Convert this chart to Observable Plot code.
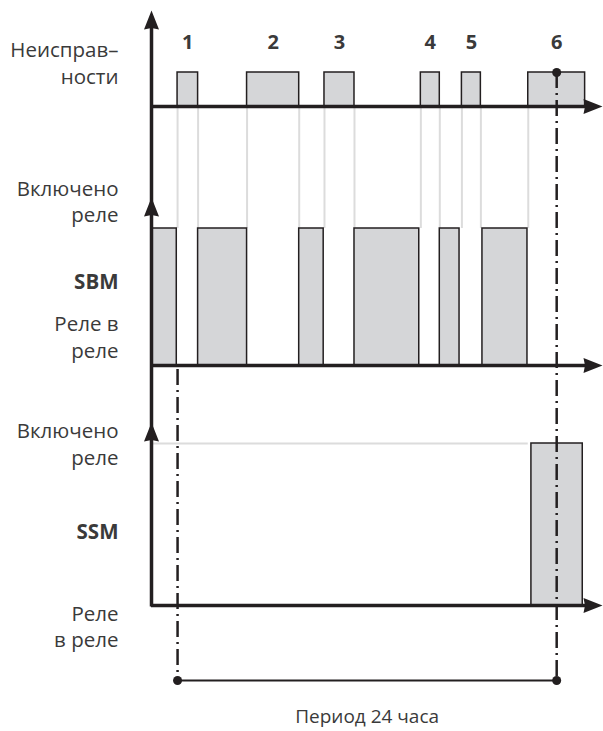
<!DOCTYPE html>
<html><head><meta charset="utf-8">
<script src="https://cdn.jsdelivr.net/npm/d3@7"></script>
<script src="https://cdn.jsdelivr.net/npm/@observablehq/plot@0.6"></script>
<style>html,body{margin:0;padding:0;background:#fff}</style>
</head><body><div id="chart"></div>
<script>
// ---- Data (time in hours; the 24 h period runs from the start of fault 1 to the marked point in fault 6)
const faultLabels = ["1", "2", "3", "4", "5", "6"];
const faultStart  = [0.0, 4.4, 9.3, 15.4, 18.0, 22.2];
const faultEnd    = [1.3, 7.7, 11.2, 16.6, 19.2, 25.8];
const sbmOnStart  = [-1.65, 1.3, 7.7, 11.2, 16.6, 19.3];
const sbmOnEnd    = [-0.05, 4.4, 9.25, 15.3, 17.85, 22.15];
const ssmOnStart  = [22.4];
const ssmOnEnd    = [25.65];
const periodStart = 0;
const periodEnd   = 24;
const timeAxisStart = -1.65;
const timeAxisEnd   = 26.9;
const faultLaneLabel = "Неисправ–\nности";
const onLabel  = "Включено\nреле";
const sbmName  = "SBM";
const ssmName  = "SSM";
const sbmOffLabel = "Реле в\nреле";
const ssmOffLabel = "Реле\nв реле";
const periodLabel = "Период 24 часа";

// ---- Layout (vertical diagram units)
const lane = {
  fault: {top: 10, on: 72, base: 106},
  sbm:   {top: 197, on: 228, base: 365},
  ssm:   {top: 422, on: 443, base: 605}
};
const numberRowY = 42;
const periodY = 680;
const captionY = 716;

const faults = faultLabels.map((label, i) => ({label, start: faultStart[i], end: faultEnd[i]}));
const sbmOn = sbmOnStart.map((s, i) => ({start: s, end: sbmOnEnd[i]}));
const ssmOn = ssmOnStart.map((s, i) => ({start: s, end: ssmOnEnd[i]}));
const connectors = faultStart.concat(faultEnd.slice(0, 5));

const INK = "#231f20";
const TEXT = "#3a3a3a";
const BOX = "#d5d6d8";
const LIGHT = "#dcdcdc";

// arrowhead pointing up with its tip at the origin
const arrowHead = {draw(ctx) { ctx.moveTo(0, 0); ctx.lineTo(7.5, 19); ctx.lineTo(0, 17.5); ctx.lineTo(-7.5, 19); ctx.closePath(); }};

const vArrows = [lane.fault, lane.sbm, lane.ssm].map(l => ({x: timeAxisStart, y: l.top}));
const hArrows = [lane.fault, lane.sbm, lane.ssm].map(l => ({x: timeAxisEnd, y: l.base}));

const fs = 20.5;
const laneText = [
  {y: (48 + 75) / 2, t: faultLaneLabel},
  {y: (187 + 213) / 2, t: onLabel},
  {y: (323 + 348) / 2, t: sbmOffLabel},
  {y: (429 + 456) / 2, t: onLabel},
  {y: (612 + 638) / 2, t: ssmOffLabel}
];
const laneNames = [
  {y: 282, t: sbmName},
  {y: 532, t: ssmName}
];

const chart = Plot.plot({
  width: 603, height: 731,
  marginTop: 0, marginRight: 0, marginBottom: 0, marginLeft: 0,
  x: {domain: [timeAxisStart, timeAxisEnd], range: [151, 602], axis: null},
  y: {domain: [0, 731], range: [0, 731], axis: null},
  style: {fontFamily: "'Open Sans', sans-serif", background: "#fff"},
  marks: [
    Plot.ruleX(connectors, {x: d => d, y1: lane.fault.base, y2: lane.sbm.on, stroke: LIGHT, strokeWidth: 2}),
    Plot.ruleY([lane.ssm.on], {x1: timeAxisStart, x2: faultStart[5], stroke: LIGHT, strokeWidth: 2}),
    Plot.rect(faults, {x1: "start", x2: "end", y1: lane.fault.on, y2: lane.fault.base, fill: BOX, stroke: INK, strokeWidth: 1.5}),
    Plot.rect(sbmOn, {x1: "start", x2: "end", y1: lane.sbm.on, y2: lane.sbm.base, fill: BOX, stroke: INK, strokeWidth: 1.5}),
    Plot.rect(ssmOn, {x1: "start", x2: "end", y1: lane.ssm.on, y2: lane.ssm.base, fill: BOX, stroke: INK, strokeWidth: 1.5}),
    Plot.ruleY([lane.fault.base, lane.sbm.base, lane.ssm.base], {x1: timeAxisStart, x2: timeAxisEnd - 0.6, stroke: INK, strokeWidth: 3.5}),
    Plot.ruleX([timeAxisStart], {y1: lane.fault.top + 8, y2: lane.ssm.base + 1.5, stroke: INK, strokeWidth: 3.5}),
    Plot.ruleX([periodStart], {y1: lane.sbm.base + 4, y2: periodY, stroke: INK, strokeWidth: 2.5, strokeDasharray: "16,5,2,5"}),
    Plot.ruleX([periodEnd], {y1: lane.fault.on, y2: periodY, stroke: INK, strokeWidth: 2.5, strokeDasharray: "16,5,2,5"}),
    Plot.ruleY([periodY], {x1: periodStart, x2: periodEnd, stroke: INK, strokeWidth: 2}),
    Plot.dot([{x: periodStart, y: periodY}, {x: periodEnd, y: periodY}, {x: periodEnd, y: lane.fault.on}], {x: "x", y: "y", r: 4.5, fill: INK, stroke: null}),
    Plot.dot(vArrows, {x: "x", y: "y", symbol: arrowHead, r: 5, fill: INK, stroke: null}),
    Plot.dot(hArrows, {x: "x", y: "y", symbol: arrowHead, r: 5, fill: INK, stroke: null, rotate: 90}),
    Plot.text(faults, {x: d => (d.start + d.end) / 2, y: numberRowY, text: "label", fontSize: 20, fontWeight: "bold", fill: TEXT}),
    Plot.text(laneText, {x: timeAxisStart, y: "y", text: "t", dx: -33, textAnchor: "end", fontSize: fs, lineHeight: 1.3, fill: TEXT}),
    Plot.text(laneNames, {x: timeAxisStart, y: "y", text: "t", dx: -33, textAnchor: "end", fontSize: fs, fontWeight: "bold", fill: TEXT}),
    Plot.text([periodLabel], {x: (periodStart + periodEnd) / 2, y: captionY, text: d => d, fontSize: 19, fill: TEXT})
  ]
});
document.getElementById("chart").appendChild(chart);
</script>
</body></html>
